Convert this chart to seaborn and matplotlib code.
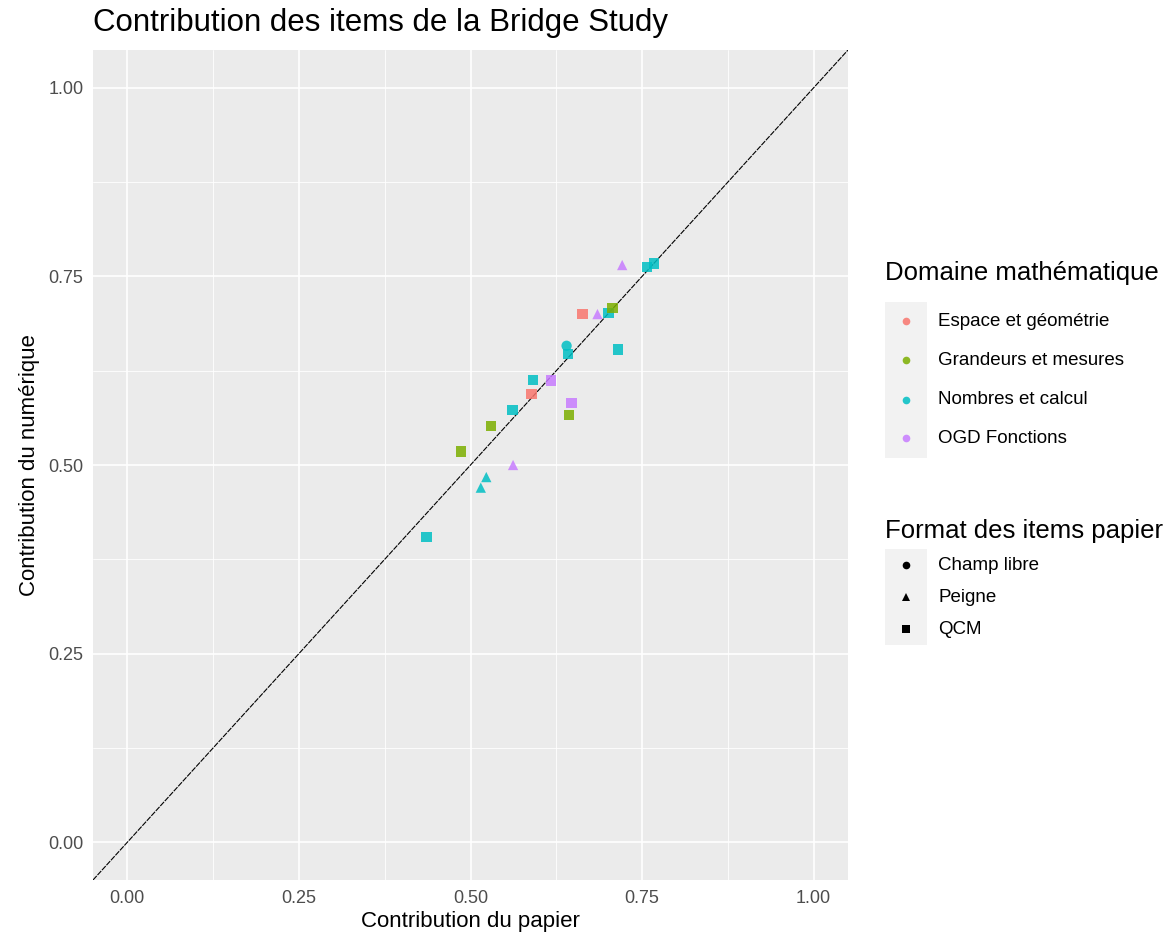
import matplotlib
matplotlib.use("Agg")
import matplotlib.pyplot as plt
from matplotlib.lines import Line2D
from matplotlib.patches import Rectangle
import seaborn as sns
import pandas as pd

# ---- data ----
domaine = ["Nombres et calcul", "Nombres et calcul", "Nombres et calcul", "OGD Fonctions",
           "Grandeurs et mesures", "Grandeurs et mesures", "Nombres et calcul", "Grandeurs et mesures",
           "OGD Fonctions", "Espace et géométrie", "Nombres et calcul", "OGD Fonctions",
           "Nombres et calcul", "Nombres et calcul", "Nombres et calcul", "Espace et géométrie",
           "OGD Fonctions", "Nombres et calcul", "Grandeurs et mesures", "OGD Fonctions",
           "Nombres et calcul", "Nombres et calcul"]
format_items = ["QCM", "Peigne", "Peigne", "Peigne",
                "QCM", "QCM", "QCM", "QCM",
                "QCM", "QCM", "QCM", "QCM",
                "QCM", "Champ libre", "QCM", "QCM",
                "Peigne", "QCM", "QCM", "Peigne",
                "QCM", "QCM"]
papier = [0.436, 0.515, 0.523, 0.562,
          0.486, 0.530, 0.561, 0.644,
          0.647, 0.589, 0.591, 0.617,
          0.642, 0.640, 0.715, 0.663,
          0.685, 0.701, 0.707, 0.721,
          0.757, 0.767]
numerique = [0.405, 0.470, 0.484, 0.500,
             0.518, 0.552, 0.573, 0.566,
             0.582, 0.594, 0.613, 0.612,
             0.647, 0.658, 0.653, 0.700,
             0.700, 0.701, 0.708, 0.765,
             0.762, 0.767]

domaine_order = ["Espace et géométrie", "Grandeurs et mesures", "Nombres et calcul", "OGD Fonctions"]
format_order = ["Champ libre", "Peigne", "QCM"]
palette = {"Espace et géométrie": "#F8766D", "Grandeurs et mesures": "#7CAE00",
           "Nombres et calcul": "#00BFC4", "OGD Fonctions": "#C77CFF"}
markers = {"Champ libre": "o", "Peigne": "^", "QCM": "s"}
tick_values = [0, 0.25, 0.5, 0.75, 1.0]
tick_labels = ["0.00", "0.25", "0.50", "0.75", "1.00"]

df = pd.DataFrame({"papier": papier, "numerique": numerique,
                   "domaine": domaine, "format": format_items})

sns.set_theme(style="darkgrid")
plt.rcParams["font.family"] = ["Liberation Sans", "DejaVu Sans"]

W, H = 1174, 946
fig = plt.figure(figsize=(W / 100, H / 100), dpi=100)
fig.patch.set_facecolor("white")
ax = fig.add_axes([93 / W, 1 - 880 / H, (848 - 93) / W, (880 - 50) / H])
ax.set_facecolor("#EBEBEB")

ax.set_xlim(-0.05, 1.05)
ax.set_ylim(-0.05, 1.05)
minor = [0.125, 0.375, 0.625, 0.875]
ax.set_xticks(tick_values)
ax.set_yticks(tick_values)
ax.set_xticks(minor, minor=True)
ax.set_yticks(minor, minor=True)
ax.set_xticklabels(tick_labels)
ax.set_yticklabels(tick_labels)
ax.grid(which="major", color="white", linewidth=1.2)
ax.grid(which="minor", color="white", linewidth=0.6)
ax.set_axisbelow(True)
for s in ax.spines.values():
    s.set_visible(False)
ax.tick_params(axis="both", which="major", length=4, width=0.9, color="#333333",
               labelsize=13, labelcolor="#4D4D4D", pad=3)
ax.tick_params(axis="both", which="minor", length=0)

ax.axline((0, 0), slope=1, color="black", linewidth=0.8, linestyle=(0, (5, 1)), zorder=2)

sns.scatterplot(data=df, x="papier", y="numerique", hue="domaine", style="format",
                hue_order=domaine_order, style_order=format_order, palette=palette,
                markers=markers, s=55, alpha=0.85, linewidth=0, legend=False, ax=ax, zorder=3)

ax.set_xlabel("Contribution du papier", fontsize=16, color="black", labelpad=3)
ax.set_ylabel("Contribution du numérique", fontsize=16, color="black", labelpad=6)
fig.text(93 / W, 1 - 23 / H, "Contribution des items de la Bridge Study", fontsize=22.5,
         va="center", ha="left", color="black")

# ---- legends (ggplot-like) ----
key_x0, key_w = 885, 42
label_x = 938


def draw_legend(title, title_y, top, key_h, labels, handles_kw):
    fig.text(key_x0 / W, 1 - title_y / H, title, fontsize=18.5, va="center", ha="left",
             color="black")
    n = len(labels)
    fig.add_artist(Rectangle((key_x0 / W, 1 - (top + n * key_h) / H), key_w / W, n * key_h / H,
                             transform=fig.transFigure, facecolor="#F2F2F2",
                             edgecolor="none", zorder=0))
    for i, (lab, kw) in enumerate(zip(labels, handles_kw)):
        yc = top + key_h * (i + 0.5)
        fig.add_artist(Line2D([(key_x0 + key_w / 2) / W], [1 - yc / H], transform=fig.transFigure,
                              linestyle="", markersize=5.5, markeredgewidth=0, **kw))
        fig.text(label_x / W, 1 - yc / H, lab, fontsize=13.5, va="center", ha="left",
                 color="black")


draw_legend("Domaine mathématique", 273, 302, 39, domaine_order,
            [dict(marker="o", markerfacecolor=palette[d], alpha=0.85) for d in domaine_order])
draw_legend("Format des items papier", 531, 549, 32, format_order,
            [dict(marker=markers[f], markerfacecolor="black") for f in format_order])

fig.savefig("out.png", dpi=100)
